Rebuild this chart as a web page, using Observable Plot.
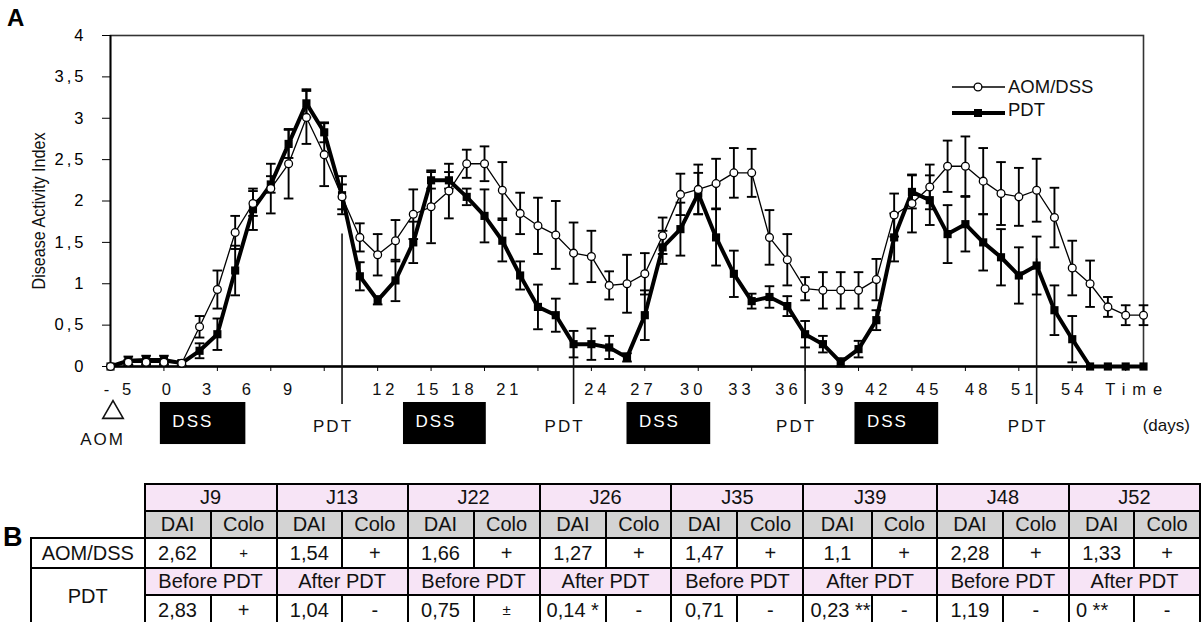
<!DOCTYPE html>
<html><head><meta charset="utf-8">
<script src="https://cdn.jsdelivr.net/npm/d3@7"></script>
<script src="https://cdn.jsdelivr.net/npm/@observablehq/plot@0.6"></script>
<style>
html,body{margin:0;padding:0;background:#fff;overflow:hidden;width:1201px;height:622px;}
#wrap{position:relative;width:1201px;height:622px;font-family:"Liberation Sans",Arial,sans-serif;overflow:hidden;}
#chart{position:absolute;left:0;top:0;}
#labB{position:absolute;left:3px;top:522px;font-size:27px;font-weight:bold;}
#tbl{position:absolute;left:30px;top:483px;border-collapse:collapse;table-layout:fixed;font-size:20px;color:#111;}
#tbl td{border:2px solid #000;text-align:center;padding:0;height:25px;line-height:23px;white-space:nowrap;overflow:hidden;}
#tbl td.empty{border:none;}
#tbl td.pink{background:#f7e4f6;}
#tbl td.gray{background:#d3d3d3;}
#tbl td.left{text-align:left;padding-left:6px;}
#tbl td.small{font-size:15px;line-height:28px;}
g[aria-description="xlabels"] text{letter-spacing:4px;}
g[aria-label="y-axis tick label"] text{letter-spacing:3px;}
g[aria-description="pdtlabels"] text{letter-spacing:2px;}
g[aria-description="dsslabels"] text{letter-spacing:2px;}
g[aria-description="timelabel"] text{letter-spacing:7px;}
g[aria-description="aomlabel"] text{letter-spacing:2px;}
</style>
</head><body>
<div id="wrap">
  <div id="chart"></div>
  <div id="labB">B</div>
  <table id="tbl"></table>
</div>
<script>
// ---- chart data (day = time point, daily) ----
const days = [-3,-2,-1,0,1,2,3,4,5,6,7,8,9,10,11,12,13,14,15,16,17,18,19,20,21,22,23,24,25,26,27,28,29,30,31,32,33,34,35,36,37,38,39,40,41,42,43,44,45,46,47,48,49,50,51,52,53,54,55];
const aomDss = [0,0.05,0.05,0.05,0.04,0.48,0.93,1.62,1.97,2.15,
  2.45,3.01,2.56,2.05,1.56,1.35,1.52,1.84,1.93,2.12,
  2.45,2.45,2.13,1.85,1.70,1.59,1.37,1.33,0.98,1.0,
  1.12,1.58,2.08,2.14,2.21,2.34,2.34,1.56,1.29,0.94,
  0.92,0.92,0.92,1.05,1.83,1.97,2.17,2.42,2.42,2.24,
  2.09,2.05,2.13,1.80,1.19,1.0,0.72,0.62,0.62];
const aomDssErr = [0,0.03,0.03,0.03,0.03,0.13,0.23,0.2,0.15,0.3,
  0.42,0.32,0.38,0.15,0.17,0.25,0.25,0.3,0.44,0.33,
  0.17,0.21,0.34,0.25,0.34,0.41,0.37,0.31,0.17,0.35,
  0.25,0.22,0.25,0.3,0.3,0.3,0.29,0.33,0.31,0.14,
  0.22,0.22,0.22,0.25,0.26,0.35,0.27,0.31,0.36,0.4,
  0.38,0.35,0.38,0.36,0.33,0.28,0.12,0.12,0.12];
const pdtSeries = [0,0.07,0.08,0.08,0.04,0.19,0.39,1.16,1.90,2.2,
  2.69,3.18,2.83,2.07,1.09,0.80,1.04,1.50,2.25,2.25,
  2.05,1.82,1.52,1.10,0.72,0.62,0.27,0.27,0.23,0.11,
  0.62,1.44,1.66,2.09,1.56,1.12,0.79,0.84,0.73,0.39,
  0.27,0.05,0.21,0.56,1.56,2.11,2.01,1.60,1.72,1.50,
  1.32,1.10,1.22,0.68,0.33,0,0,0,0];
const pdtErr = [0,0.05,0.05,0.05,0.03,0.09,0.19,0.3,0.25,0.1,
  0.17,0.17,0.12,0.23,0.17,0.05,0.25,0.25,0.1,0.1,
  0.1,0.32,0.25,0.17,0.27,0.2,0.16,0.19,0.14,0.05,
  0.3,0.2,0.32,0.25,0.34,0.28,0.09,0.13,0.12,0.16,
  0.1,0.05,0.1,0.12,0.29,0.2,0.3,0.35,0.33,0.34,
  0.34,0.34,0.35,0.3,0.28,0,0,0,0];
const seriesNames = ["AOM/DSS","PDT"];

// ---- axis ticks and the typed day labels under the axis ----
const xTickDays = [-3,0,3,6,9,12,15,18,21,24,27,30,33,36,39,42,45,48,51,54];
const yTicks = [0,0.5,1,1.5,2,2.5,3,3.5,4];
const xLabels = ["- 5","0","3","6","9","12","15","18","21","24","27","30","33","36","39","42","45","48","51","54"];
const xLabelAt = [-2.61,0.14,2.39,4.63,6.94,12.32,14.79,16.76,19.28,24.22,26.81,29.61,32.31,34.95,37.53,40.0,42.86,45.61,48.19,51.0];

// ---- treatment annotations ----
const dssStart = [-0.2,13.45,26.0,38.8];
const dssEnd = [4.6,18.1,30.7,43.5];
const pdtDays = [10,23,36,49];
const pdtRuleTop = [1.6,0.42,0.35,1.3];

// ---- table B ----
const tDays = ["J9","J13","J22","J26","J35","J39","J48","J52"];
const tAomDai = ["2,62","1,54","1,66","1,27","1,47","1,1","2,28","1,33"];
const tAomColo = ["+","+","+","+","+","+","+","+"];
const tPhase = ["Before PDT","After PDT","Before PDT","After PDT","Before PDT","After PDT","Before PDT","After PDT"];
const tPdtDai = ["2,83","1,04","0,75","0,14 *","0,71","0,23 **","1,19","0 **"];
const tPdtColo = ["+","-","±","-","-","-","-","-"];

// ---- build rows ----
const aomRows = days.map((d,i)=>({day:d, v:aomDss[i], e:aomDssErr[i], s:seriesNames[0]}));
const pdtRows = days.map((d,i)=>({day:d, v:pdtSeries[i], e:pdtErr[i], s:seriesNames[1]}));
const errRows = [...aomRows, ...pdtRows].filter(r=>r.e>0);
const caps = errRows.flatMap(r=>[{day:r.day, y:r.v+r.e},{day:r.day, y:r.v-r.e}]);
const dssRows = dssStart.map((s,i)=>({x1:s, x2:dssEnd[i]}));
const pdtRuleRows = pdtDays.map((d,i)=>({day:d, top:pdtRuleTop[i]}));

// annotation rows below the axis, in y-scale units
const Y_LABEL = -0.278, Y_BOX_TOP = -0.435, Y_BOX_BOT = -0.943, Y_DSS_TXT = -0.665,
      Y_PDT_TXT = -0.725, Y_TRI = -0.556, Y_AOM_TXT = -0.888, Y_RULE_FOOT = -0.459, Y_DAYS = -0.713;
const CAP = 0.27;
const FONT = "Liberation Sans, Arial, sans-serif";

const svg = Plot.plot({
  width:1201, height:460,
  marginTop:35, marginBottom:94, marginLeft:110, marginRight:58,
  x:{domain:[-3,55]},
  y:{domain:[0,4]},
  style:{fontFamily:FONT, fontSize:"16.5px", color:"#000", background:"transparent", overflow:"visible"},
  marks:[
    Plot.frame({stroke:"#333", strokeWidth:1.6}),
    Plot.axisX({ticks:xTickDays, tickSize:5, tickFormat:()=>"", label:null, stroke:"#000"}),
    Plot.axisY({ticks:yTicks, tickSize:8, tickPadding:16, tickFormat:d=>String(d).replace(".", ","), label:null, fontSize:16.5, stroke:"#000"}),
    Plot.ruleY([0], {stroke:"#000", strokeWidth:2.4}),
    Plot.ruleX([-3], {stroke:"#000", strokeWidth:1.8}),
    // PDT marker lines
    Plot.ruleX(pdtRuleRows, {x:"day", y1:"top", y2:Y_RULE_FOOT, stroke:"#111", strokeWidth:1.6}),
    // error bars
    Plot.ruleX(errRows, {x:"day", y1:d=>d.v-d.e, y2:d=>d.v+d.e, stroke:"#000", strokeWidth:1.9}),
    Plot.link(caps, {x1:d=>d.day-CAP, x2:d=>d.day+CAP, y1:"y", y2:"y", stroke:"#000", strokeWidth:1.9}),
    // series
    Plot.line(pdtRows, {x:"day", y:"v", stroke:"#000", strokeWidth:4}),
    Plot.line(aomRows, {x:"day", y:"v", stroke:"#000", strokeWidth:1.3}),
    Plot.dot(pdtRows, {x:"day", y:"v", symbol:"square", r:4.6, fill:"#000"}),
    Plot.dot(aomRows, {x:"day", y:"v", r:3.9, fill:"#fff", stroke:"#000", strokeWidth:1.3}),
    // typed day labels
    Plot.text(xLabels, {x:(d,i)=>xLabelAt[i], y:Y_LABEL, text:d=>d, dx:2, fontSize:16.5, fill:"#111", ariaDescription:"xlabels"}),
    Plot.text(["Time"], {x:54.48, y:Y_LABEL, text:d=>d, dx:3, fontSize:16.5, fill:"#111", ariaDescription:"timelabel"}),
    Plot.text(["(days)"], {x:56.28, y:Y_DAYS, text:d=>d, fontSize:17, fill:"#111"}),
    // DSS boxes
    Plot.rect(dssRows, {x1:"x1", x2:"x2", y1:Y_BOX_TOP, y2:Y_BOX_BOT, fill:"#000"}),
    Plot.text(dssRows, {x:"x1", y:Y_DSS_TXT, text:()=>"DSS", dx:12, textAnchor:"start", fontSize:17, fill:"#fff", ariaDescription:"dsslabels"}),
    // PDT labels
    Plot.text(pdtDays, {x:d=>d, y:Y_PDT_TXT, text:()=>"PDT", dx:-9, fontSize:17, fill:"#111", ariaDescription:"pdtlabels"}),
    // AOM
    Plot.dot([days[0]], {x:d=>d, y:Y_TRI, symbol:"triangle", r:7.6, fill:"#fff", stroke:"#111", strokeWidth:1.6, dx:2.5}),
    Plot.text(["AOM"], {x:days[0], y:Y_AOM_TXT, text:d=>d, dx:-8, fontSize:17, fill:"#111", ariaDescription:"aomlabel"}),
    // y label
    Plot.text(["Disease Activity Index"], {frameAnchor:"left", textAnchor:"middle", dx:-71.5, dy:10, rotate:-90, text:d=>d, fontSize:18, fill:"#111", ariaDescription:"ylabel"})
  ]
});
document.getElementById("chart").appendChild(svg);

const s = d3.select(svg);
s.select('g[aria-description="ylabel"] text').attr("textLength",157).attr("lengthAdjust","spacingAndGlyphs");
// panel letter
s.append("text").attr("x",7).attr("y",26).attr("text-anchor","start").attr("font-size",24).attr("font-weight","bold").attr("font-family",FONT).text("A");
// legend
const lg = s.append("g").attr("font-family",FONT).attr("font-size",18.5).attr("fill","#111").attr("text-anchor","start");
lg.append("line").attr("x1",952).attr("x2",1005).attr("y1",87).attr("y2",87).attr("stroke","#000").attr("stroke-width",1.3);
lg.append("circle").attr("cx",978).attr("cy",87).attr("r",3.9).attr("fill","#fff").attr("stroke","#000").attr("stroke-width",1.3);
lg.append("text").attr("x",1008).attr("y",87).attr("dy","0.35em").text(seriesNames[0]);
lg.append("line").attr("x1",952).attr("x2",1005).attr("y1",113).attr("y2",113).attr("stroke","#000").attr("stroke-width",4);
lg.append("rect").attr("x",974).attr("y",109).attr("width",8).attr("height",8).attr("fill","#000");
lg.append("text").attr("x",1008).attr("y",110).attr("dy","0.35em").text(seriesNames[1]);

// ---- table ----
const tbl = d3.select("#tbl");
const cg = tbl.append("colgroup");
cg.append("col").style("width","115px");
tDays.forEach(()=>{cg.append("col").style("width","67px");cg.append("col").style("width","67px");});
let tr = tbl.append("tr");
tr.append("td").attr("class","empty");
tDays.forEach(d=>tr.append("td").attr("colspan",2).attr("class","pink").text(d));
tr = tbl.append("tr");
tr.append("td").attr("class","empty");
tDays.forEach(()=>{tr.append("td").attr("class","gray").text("DAI");tr.append("td").attr("class","gray").text("Colo");});
tr = tbl.append("tr");
tr.append("td").text(seriesNames[0]);
tDays.forEach((d,i)=>{tr.append("td").text(tAomDai[i]);tr.append("td").attr("class", i===0?"small":null).text(tAomColo[i]);});
tr = tbl.append("tr");
tr.append("td").attr("rowspan",2).text(seriesNames[1]);
tDays.forEach((d,i)=>tr.append("td").attr("colspan",2).attr("class","pink").text(tPhase[i]));
tr = tbl.append("tr");
tDays.forEach((d,i)=>{
  tr.append("td").attr("class", tPdtDai[i].includes("*")?"left":null).text(tPdtDai[i]);
  tr.append("td").attr("class", tPdtColo[i]==="±"?"small":null).text(tPdtColo[i]);
});
</script>
</body></html>
